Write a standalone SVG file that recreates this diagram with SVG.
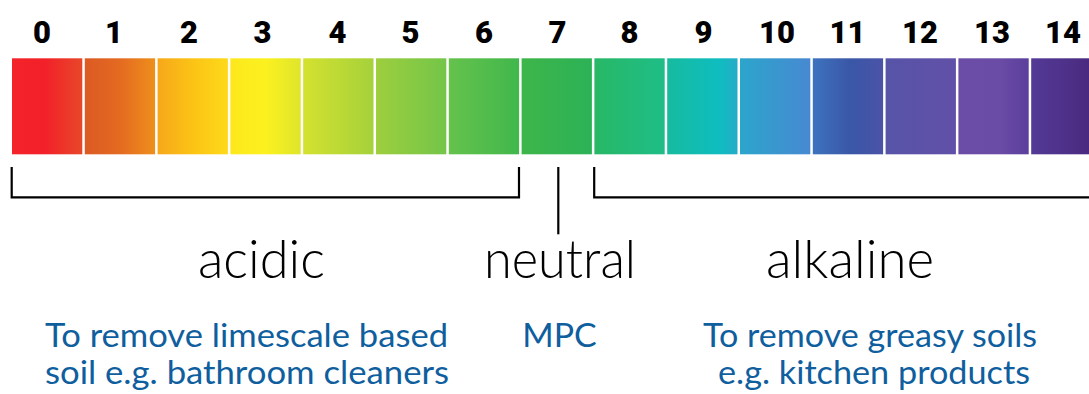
<svg xmlns="http://www.w3.org/2000/svg" width="1089" height="394" viewBox="0 0 1089 394">
<defs>
<linearGradient id="ph" gradientUnits="userSpaceOnUse" x1="12" y1="0" x2="1089" y2="0">
<stop offset="0" stop-color="#f42229"/>
<stop offset="0.031" stop-color="#f22129"/>
<stop offset="0.065" stop-color="#e8472a"/>
<stop offset="0.068" stop-color="#dc5a24"/>
<stop offset="0.1" stop-color="#e46a21"/>
<stop offset="0.133" stop-color="#ee8f1b"/>
<stop offset="0.136" stop-color="#f7a81a"/>
<stop offset="0.170" stop-color="#fcc515"/>
<stop offset="0.2" stop-color="#fdd91a"/>
<stop offset="0.204" stop-color="#fde81d"/>
<stop offset="0.235" stop-color="#fcf11f"/>
<stop offset="0.267" stop-color="#dfe62b"/>
<stop offset="0.270" stop-color="#d4e22f"/>
<stop offset="0.337" stop-color="#a4d13b"/>
<stop offset="0.340" stop-color="#9cce3e"/>
<stop offset="0.405" stop-color="#72c549"/>
<stop offset="0.407" stop-color="#64c24c"/>
<stop offset="0.472" stop-color="#40b74c"/>
<stop offset="0.474" stop-color="#3db54a"/>
<stop offset="0.539" stop-color="#2cb257"/>
<stop offset="0.541" stop-color="#28b866"/>
<stop offset="0.606" stop-color="#1ebd87"/>
<stop offset="0.609" stop-color="#16bb9f"/>
<stop offset="0.657" stop-color="#0fbdc0"/>
<stop offset="0.674" stop-color="#26abc9"/>
<stop offset="0.676" stop-color="#2ca5cc"/>
<stop offset="0.741" stop-color="#4789d1"/>
<stop offset="0.743" stop-color="#3d73bf"/>
<stop offset="0.778" stop-color="#3a57a7"/>
<stop offset="0.809" stop-color="#4a53a7"/>
<stop offset="0.811" stop-color="#5754a7"/>
<stop offset="0.876" stop-color="#6150a8"/>
<stop offset="0.878" stop-color="#6b4ca6"/>
<stop offset="0.917" stop-color="#6a4ba6"/>
<stop offset="0.943" stop-color="#5c409c"/>
<stop offset="0.946" stop-color="#533a96"/>
<stop offset="1" stop-color="#4a2a80"/>
</linearGradient>
</defs>
<style>
.box{fill:url(#ph);}
.num{font-family:Roboto,"Liberation Sans",sans-serif;font-weight:900;font-size:31px;fill:#000;text-anchor:middle;}
.cat{font-family:Lato,"Open Sans","Liberation Sans",sans-serif;font-weight:300;font-size:53px;fill:#000;}
.use{font-family:Lato,"Open Sans","Liberation Sans",sans-serif;font-weight:400;font-size:32px;fill:#0f5e9e;}
.br{fill:none;stroke:#000;stroke-width:2.2;}
</style>
<g id="scale">
<rect class="box" x="12" y="58.3" width="70.3" height="96"/>
<rect class="box" x="84.8" y="58.3" width="70.3" height="96"/>
<rect class="box" x="157.6" y="58.3" width="70.3" height="96"/>
<rect class="box" x="230.4" y="58.3" width="70.3" height="96"/>
<rect class="box" x="303.2" y="58.3" width="70.3" height="96"/>
<rect class="box" x="376" y="58.3" width="70.3" height="96"/>
<rect class="box" x="448.8" y="58.3" width="70.3" height="96"/>
<rect class="box" x="521.6" y="58.3" width="70.3" height="96"/>
<rect class="box" x="594.4" y="58.3" width="70.3" height="96"/>
<rect class="box" x="667.2" y="58.3" width="70.3" height="96"/>
<rect class="box" x="740" y="58.3" width="70.3" height="96"/>
<rect class="box" x="812.8" y="58.3" width="70.3" height="96"/>
<rect class="box" x="885.6" y="58.3" width="70.3" height="96"/>
<rect class="box" x="958.4" y="58.3" width="70.3" height="96"/>
<rect class="box" x="1031.2" y="58.3" width="70.3" height="96"/>
</g>
<g id="numbers">
<text class="num" x="42" y="43.3">0</text>
<text class="num" x="114" y="43.3">1</text>
<text class="num" x="189" y="43.3">2</text>
<text class="num" x="262.5" y="43.3">3</text>
<text class="num" x="337.5" y="43.3">4</text>
<text class="num" x="410.5" y="43.3">5</text>
<text class="num" x="484" y="43.3">6</text>
<text class="num" x="557.5" y="43.3">7</text>
<text class="num" x="629.5" y="43.3">8</text>
<text class="num" x="703.5" y="43.3">9</text>
<text class="num" x="777" y="43.3">10</text>
<text class="num" x="847.5" y="43.3">11</text>
<text class="num" x="920" y="43.3">12</text>
<text class="num" x="992" y="43.3">13</text>
<text class="num" x="1063" y="43.3">14</text>
</g>
<g id="connectors">
<path class="br" d="M11.7,167 V197.3 H519 V167"/>
<path class="br" d="M558.3,167 V234.3"/>
<path class="br" d="M594.2,167 V197.3 H1090"/>
</g>
<g id="acidic">
<text class="cat" x="198" y="278.3" textLength="127" lengthAdjust="spacingAndGlyphs">acidic</text>
<text class="use" x="45" y="347" textLength="403" lengthAdjust="spacingAndGlyphs">To remove limescale based</text>
<text class="use" x="45" y="383.5" textLength="404" lengthAdjust="spacingAndGlyphs">soil e.g. bathroom cleaners</text>
</g>
<g id="neutral">
<text class="cat" x="484" y="278.3" textLength="152" lengthAdjust="spacingAndGlyphs">neutral</text>
<text class="use" x="522.3" y="347" textLength="74.4" lengthAdjust="spacingAndGlyphs">MPC</text>
</g>
<g id="alkaline">
<text class="cat" x="766" y="278.3" textLength="168" lengthAdjust="spacingAndGlyphs">alkaline</text>
<text class="use" x="703" y="347" textLength="334" lengthAdjust="spacingAndGlyphs">To remove greasy soils</text>
<text class="use" x="718" y="383.5" textLength="312" lengthAdjust="spacingAndGlyphs">e.g. kitchen products</text>
</g>
</svg>
